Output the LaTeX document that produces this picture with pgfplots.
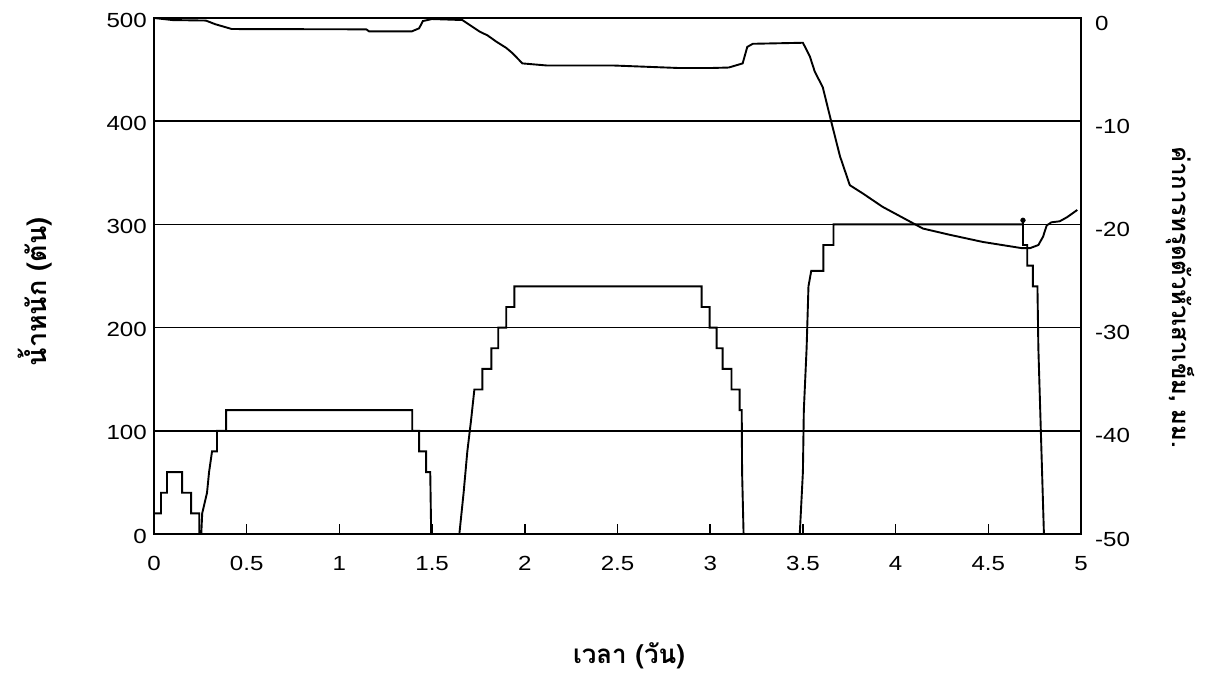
\documentclass[border=0pt]{standalone}
\usepackage{fontspec}
\setmainfont{Liberation Sans}
\newfontfamily\numfont{Liberation Sans}[FakeStretch=1.18]
\newfontfamily\thaifont[Script=Thai]{Loma}
\usepackage{pgfplots}
\pgfplotsset{compat=1.18}

\begin{document}
\begin{tikzpicture}[x=1bp,y=1bp]
\path[use as bounding box] (-154,-140) rectangle (1063,534);
\begin{axis}[
  at={(0,0)}, anchor=south west,
  scale only axis, width=927bp, height=516bp,
  xmin=0, xmax=5, ymin=0, ymax=500,
  axis line style={line width=1.7bp, black},
  xtick={0,0.5,1,1.5,2,2.5,3,3.5,4,4.5,5},
  xticklabels={0,0.5,1,1.5,2,2.5,3,3.5,4,4.5,5},
  xtick pos=left,
  tick align=inside,
  major tick length=10bp,
  xtick style={line width=1.5bp, black},
  ytick={0,100,200,300,400,500},
  yticklabels={0,100,200,300,400,500},
  ytick style={draw=none},
  ytick pos=left,
  ymajorgrids,
  grid style={line width=1.5bp, black},
  xticklabel style={font=\numfont\fontsize{20.5}{24}\selectfont, anchor=north, inner sep=0pt, yshift=-22bp},
  yticklabel style={font=\numfont\fontsize{20.5}{24}\selectfont, anchor=east, inner sep=0pt, xshift=-7bp, yshift=-2bp},
  xlabel={เวลา (วัน)},
  ylabel={น้ำหนัก (ตัน)},
  every axis x label/.style={at={(axis description cs:0.5124,-0.236)}, anchor=center, font=\thaifont\bfseries\fontsize{26}{30}\selectfont},
  every axis y label/.style={at={(axis description cs:-0.128,0.469)}, anchor=center, rotate=90, font=\thaifont\bfseries\fontsize{27}{31}\selectfont},
  clip=false,
]
\addplot[black, line width=1.9bp] coordinates {
(0,20)(0.038,20)(0.038,40)(0.07,40)(0.07,60)(0.152,60)(0.152,40)(0.20,40)(0.20,20)(0.244,20)(0.244,0)
(0.255,0)(0.26,20)(0.286,40)(0.297,60)(0.313,80)(0.34,80)(0.34,100)(0.389,100)(0.389,120)
(1.393,120)(1.393,100)(1.43,100)(1.43,80)(1.468,80)(1.468,60)(1.49,60)(1.495,0)
(1.647,0)(1.67,40)(1.69,80)(1.71,110)(1.728,140)
(1.771,140)(1.771,160)(1.82,160)(1.82,180)(1.857,180)(1.857,200)(1.90,200)(1.90,220)(1.944,220)(1.944,240)
(2.954,240)(2.954,220)(2.997,220)(2.997,200)(3.035,200)(3.035,180)(3.067,180)(3.067,160)(3.115,160)(3.115,140)(3.159,140)(3.159,120)
(3.17,120)(3.172,60)(3.18,0)
(3.483,0)(3.50,60)(3.505,120)(3.52,180)(3.53,240)(3.545,255)(3.61,255)(3.61,280)(3.665,280)(3.665,300)
(4.687,300)(4.687,304)(4.687,280)(4.71,280)(4.71,260)(4.74,260)(4.74,240)(4.765,240)(4.77,180)(4.78,120)(4.79,60)(4.80,0)
};
\addplot[only marks, mark=*, mark size=2.4bp, black] coordinates {(4.687,304)};
\end{axis}
\begin{axis}[
  at={(0,0)}, anchor=south west,
  scale only axis, width=927bp, height=516bp,
  xmin=0, xmax=5, ymin=-50, ymax=0,
  axis x line=none,
  axis y line*=right,
  axis line style={line width=1.7bp, black},
  ytick={-50,-40,-30,-20,-10,0},
  yticklabels={-50,-40,-30,-20,-10,0},
  ytick style={draw=none},
  yticklabel style={font=\numfont\fontsize{20.5}{24}\selectfont, anchor=west, inner sep=0pt, xshift=14bp, yshift=-5bp},
  ylabel={ค่าการทรุดตัวหัวเสาเข็ม, มม.},
  every axis y label/.style={at={(axis description cs:1.1068,0.459)}, anchor=center, rotate=-90, font=\thaifont\bfseries\fontsize{24}{28}\selectfont},
  clip=false,
]
\addplot[black, line width=1.9bp] coordinates {
(0,0)(0.1,-0.2)(0.28,-0.25)(0.33,-0.6)(0.42,-1.07)(1.145,-1.1)(1.16,-1.3)(1.39,-1.3)(1.43,-1.0)(1.45,-0.3)(1.50,-0.1)
(1.663,-0.2)(1.755,-1.3)(1.80,-1.7)(1.847,-2.3)(1.90,-2.9)(1.933,-3.4)(1.987,-4.4)(2.117,-4.6)(2.473,-4.6)(2.835,-4.85)(2.997,-4.85)(3.10,-4.8)(3.175,-4.4)
(3.20,-2.8)(3.23,-2.5)(3.50,-2.4)(3.537,-3.7)(3.564,-5.2)(3.607,-6.7)(3.655,-10.2)(3.70,-13.4)(3.753,-16.2)(3.823,-17.0)(3.93,-18.3)(4.147,-20.4)(4.29,-21.0)(4.47,-21.7)
(4.68,-22.3)(4.725,-22.3)(4.77,-22.0)(4.795,-21.2)(4.815,-20.1)(4.84,-19.8)(4.885,-19.7)(4.925,-19.3)(4.98,-18.6)
};
\end{axis}
\end{tikzpicture}
\end{document}
